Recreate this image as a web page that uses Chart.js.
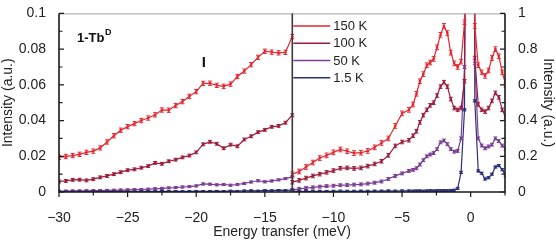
<!DOCTYPE html>
<html>
<head>
<meta charset="utf-8">
<script src="https://cdn.jsdelivr.net/npm/chart.js@4.4.1/dist/chart.umd.min.js"></script>
<style>
  html, body { margin: 0; padding: 0; background: #fff; }
  #wrap { width: 556px; height: 241px; }
</style>
</head>
<body>
<div id="wrap"><canvas id="spectraChart" width="556" height="241"></canvas></div>
<script>
    // 온도별 시리즈 (범례 순서)
    const temps = ['150 K', '100 K', '50 K', '1.5 K'];
    const lineColors = ['#e4262f', '#9c1d3c', '#7b3e92', '#2b2e7d'];

    // 왼쪽 패널 (x < -13), 왼쪽 축 0 ~ 0.1
    const xLeft = [-30, -29.5, -29, -28.5, -28, -27.5, -27, -26.5, -26, -25.5, -25, -24.5,
        -24, -23.5, -23, -22.5, -22, -21.5, -21, -20.5, -20, -19.5, -19, -18.5, -18,
        -17.5, -17, -16.5, -16, -15.5, -15, -14.5, -14, -13.5, -13];
    const left150 = [0.0194, 0.0199, 0.0204, 0.0211, 0.0222, 0.0229, 0.0247, 0.0280, 0.0315, 0.0346,
        0.0366, 0.0383, 0.0400, 0.0414, 0.0432, 0.0459, 0.0458, 0.0484, 0.0506, 0.0536, 0.0562,
        0.0608, 0.0609, 0.0597, 0.0592, 0.0604, 0.0647, 0.0677, 0.0713, 0.0754, 0.0788, 0.0783,
        0.0779, 0.0782, 0.0870];
    const left100 = [0.0059, 0.0062, 0.0068, 0.0069, 0.0065, 0.0072, 0.0082, 0.0090, 0.0100, 0.0111,
        0.0122, 0.0127, 0.0136, 0.0145, 0.0163, 0.0158, 0.0172, 0.0181, 0.0194, 0.0204, 0.0222,
        0.0267, 0.0281, 0.0270, 0.0245, 0.0265, 0.0256, 0.0294, 0.0312, 0.0335, 0.0348, 0.0365,
        0.0370, 0.0388, 0.0430];
    const left50 = [0.0005, 0.0005, 0.0006, 0.0006, 0.0007, 0.0008, 0.0008, 0.0009, 0.0010, 0.0011,
        0.0012, 0.0013, 0.0014, 0.0016, 0.0018, 0.0020, 0.0023, 0.0025, 0.0028, 0.0030, 0.0034,
        0.0045, 0.0044, 0.0040, 0.0042, 0.0038, 0.0042, 0.0048, 0.0056, 0.0063, 0.0057, 0.0062,
        0.0068, 0.0075, 0.0085];
    const left1p5 = [0.0002, 0.0002, 0.0001, 0.0002, 0.0002, 0.0003, 0.0002, 0.0002, 0.0003, 0.0003,
        0.0003, 0.0002, 0.0003, 0.0004, 0.0003, 0.0004, 0.0003, 0.0004, 0.0003, 0.0004, 0.0005,
        0.0004, 0.0004, 0.0005, 0.0004, 0.0006, 0.0005, 0.0007, 0.0008, 0.0006, 0.0009, 0.0008,
        0.0010, 0.0009, 0.0011];

    // 오른쪽 패널 (x > -13), 오른쪽 축 0 ~ 1
    const xRight = [-13, -12.5, -12, -11.5, -11, -10.5, -10, -9.5, -9, -8.5, -8, -7.5, -7, -6.5,
        -6, -5.5, -5, -4.5, -4.2, -3.95, -3.7, -3.45, -3.2, -2.95, -2.7, -2.45, -2.2, -1.95,
        -1.7, -1.45, -1.2, -0.95, -0.7, -0.45, -0.2, 0.05, 0.3, 0.55, 0.8, 1.05, 1.3, 1.55,
        1.8, 2.05, 2.3, 2.55];
    const right150 = [0.100, 0.115, 0.140, 0.165, 0.190, 0.205, 0.222, 0.238, 0.228, 0.218, 0.220,
        0.230, 0.250, 0.275, 0.300, 0.370, 0.440, 0.460, 0.490, 0.550, 0.620, 0.660, 0.710,
        0.725, 0.745, 0.810, 0.880, 0.930, 0.890, 0.780, 0.720, 0.700, 0.730, 0.950, 5.0,
        7.0, 0.930, 0.710, 0.670, 0.650, 0.680, 0.750, 0.800, 0.760, 0.670, 0.600];
    const right100 = [0.055, 0.065, 0.078, 0.090, 0.100, 0.110, 0.120, 0.133, 0.135, 0.132, 0.135,
        0.145, 0.157, 0.172, 0.205, 0.258, 0.280, 0.290, 0.315, 0.340, 0.390, 0.430, 0.460,
        0.485, 0.500, 0.540, 0.590, 0.615, 0.590, 0.520, 0.470, 0.460, 0.470, 0.620, 4.5,
        6.5, 0.750, 0.490, 0.460, 0.450, 0.470, 0.510, 0.555, 0.530, 0.460, 0.420];
    const right50 = [0.012, 0.018, 0.022, 0.026, 0.030, 0.033, 0.035, 0.038, 0.039, 0.041, 0.043,
        0.047, 0.052, 0.059, 0.073, 0.090, 0.104, 0.118, 0.124, 0.133, 0.154, 0.178, 0.200,
        0.210, 0.218, 0.240, 0.278, 0.288, 0.268, 0.240, 0.226, 0.230, 0.300, 0.700, 3.0,
        4.0, 0.720, 0.300, 0.260, 0.245, 0.255, 0.265, 0.300, 0.285, 0.260, 0.240];
    const right1p5 = [0.003, 0.004, 0.003, 0.004, 0.004, 0.003, 0.004, 0.005, 0.004, 0.004, 0.005,
        0.004, 0.005, 0.005, 0.006, 0.005, 0.006, 0.006, 0.005, 0.006, 0.006, 0.005, 0.006,
        0.007, 0.006, 0.007, 0.007, 0.008, 0.007, 0.008, 0.010, 0.020, 0.110, 0.460, 9.0,
        12.0, 0.510, 0.118, 0.105, 0.073, 0.080, 0.100, 0.140, 0.148, 0.125, 0.090];

    // 오차 막대 크기 (온도별)
    const errLeft = [0.0012, 0.0008, 0.0006, 0.0004];
    const errRight = [0.013, 0.010, 0.008, 0.006];

    // 눈금 라벨
    const xTickLabels = [-30, -25, -20, -15, -10, -5, 0];
    const yLeftTickLabels = [0, 0.02, 0.04, 0.06, 0.08, 0.1];
    const yRightTickLabels = [0, 0.2, 0.4, 0.6, 0.8, 1];
    const dividerX = -13;
    const peakMarkX = -19.45, peakMarkY = 0.0725;

    function near(v, list) {
        return list.some(l => Math.abs(l - v) < 1e-9);
    }

    function pts(xs, ys) {
        return xs.map((x, i) => ({ x: x, y: ys[i] }));
    }

    const leftSets = [left150, left100, left50, left1p5];
    const rightSets = [right150, right100, right50, right1p5];
    const datasets = [];
    temps.forEach((t, i) => {
        [[xLeft, leftSets[i], 'yL', errLeft[i]], [xRight, rightSets[i], 'yR', errRight[i]]].forEach(p => {
            datasets.push({
                label: t,
                data: pts(p[0], p[1]),
                yAxisID: p[2],
                err: p[3],
                borderColor: lineColors[i],
                backgroundColor: lineColors[i],
                borderWidth: 1.2,
                pointStyle: 'rect',
                pointRadius: 1.7,
                pointBorderWidth: 0,
                tension: 0
            });
        });
    });

    // 오차 막대 그리기
    const errorBars = {
        id: 'errorBars',
        afterDatasetsDraw(chart) {
            const ctx = chart.ctx, a = chart.chartArea;
            ctx.save();
            ctx.beginPath();
            ctx.rect(a.left, a.top, a.right - a.left, a.bottom - a.top);
            ctx.clip();
            chart.data.datasets.forEach((ds, i) => {
                const meta = chart.getDatasetMeta(i);
                const ys = chart.scales[ds.yAxisID];
                ctx.strokeStyle = ds.borderColor;
                ctx.lineWidth = 1;
                ctx.beginPath();
                meta.data.forEach((el, j) => {
                    const v = ds.data[j].y;
                    const t = ys.getPixelForValue(v + ds.err);
                    const b = ys.getPixelForValue(v - ds.err);
                    ctx.moveTo(el.x, t); ctx.lineTo(el.x, b);
                    ctx.moveTo(el.x - 2, t); ctx.lineTo(el.x + 2, t);
                    ctx.moveTo(el.x - 2, b); ctx.lineTo(el.x + 2, b);
                });
                ctx.stroke();
            });
            ctx.restore();
        }
    };

    // 테두리, 안쪽 눈금, 구분선, 범례, 주석
    const frame = {
        id: 'frame',
        afterDraw(chart) {
            const ctx = chart.ctx, a = chart.chartArea;
            const x = chart.scales.x, yL = chart.scales.yL, yR = chart.scales.yR;
            ctx.save();

            ctx.strokeStyle = '#a0a0a0';
            ctx.lineWidth = 1;
            ctx.beginPath();
            ctx.moveTo(a.left, a.top + 0.5); ctx.lineTo(a.right, a.top + 0.5);
            ctx.stroke();

            ctx.strokeStyle = '#1a1a1a';
            ctx.lineWidth = 1.6;
            ctx.beginPath();
            ctx.moveTo(a.left, a.top); ctx.lineTo(a.left, a.bottom);
            ctx.lineTo(a.right, a.bottom); ctx.lineTo(a.right, a.top);
            ctx.stroke();

            const dx = x.getPixelForValue(dividerX);
            ctx.strokeStyle = '#3a3a3a';
            ctx.beginPath();
            ctx.moveTo(dx, a.top); ctx.lineTo(dx, a.bottom);
            ctx.stroke();

            ctx.strokeStyle = '#1a1a1a';
            ctx.lineWidth = 1.2;
            ctx.beginPath();
            x.ticks.forEach(t => {
                const px = x.getPixelForValue(t.value);
                const len = near(t.value, xTickLabels) ? 5 : 3.5;
                ctx.moveTo(px, a.bottom); ctx.lineTo(px, a.bottom + len);
            });
            yL.ticks.forEach(t => {
                const py = yL.getPixelForValue(t.value);
                const len = near(t.value, yLeftTickLabels) ? 5 : 3.5;
                ctx.moveTo(a.left, py); ctx.lineTo(a.left + len, py);
            });
            yR.ticks.forEach(t => {
                const py = yR.getPixelForValue(t.value);
                const len = near(t.value, yRightTickLabels) ? 5 : 3.5;
                ctx.moveTo(a.right, py); ctx.lineTo(a.right - len, py);
            });
            ctx.stroke();

            // 범례
            ctx.font = '13px "Liberation Sans", Arial, sans-serif';
            ctx.textBaseline = 'middle';
            ctx.textAlign = 'left';
            temps.forEach((t, i) => {
                const ry = a.top + 12.5 + i * 17.3;
                ctx.strokeStyle = lineColors[i];
                ctx.lineWidth = 1.5;
                ctx.beginPath();
                ctx.moveTo(dx + 1, ry); ctx.lineTo(dx + 38, ry);
                ctx.stroke();
                ctx.fillStyle = '#222';
                ctx.fillText(t, dx + 41, ry + 0.5);
            });

            // 패널 라벨
            ctx.fillStyle = '#111';
            ctx.textBaseline = 'alphabetic';
            ctx.font = 'bold 13px "Liberation Sans", Arial, sans-serif';
            ctx.fillText('1-Tb', a.left + 18, a.top + 29);
            const w = ctx.measureText('1-Tb').width;
            ctx.font = 'bold 9px "Liberation Sans", Arial, sans-serif';
            ctx.fillText('D', a.left + 18 + w + 0.5, a.top + 22);

            // 피크 표시
            ctx.font = 'bold 15px "Liberation Sans", Arial, sans-serif';
            ctx.textAlign = 'center';
            ctx.textBaseline = 'middle';
            ctx.fillText('I', x.getPixelForValue(peakMarkX), yL.getPixelForValue(peakMarkY));

            ctx.restore();
        }
    };

    Chart.defaults.font.family = '"Liberation Sans", Arial, Helvetica, sans-serif';
    Chart.defaults.font.size = 14;
    Chart.defaults.color = '#222';

    const ctx = document.getElementById('spectraChart').getContext('2d');
    const spectraChart = new Chart(ctx, {
        type: 'line',
        data: { datasets: datasets },
        options: {
            responsive: false,
            animation: false,
            devicePixelRatio: 1,
            layout: { padding: { top: 6, left: 0, right: 0, bottom: 0 } },
            plugins: {
                legend: { display: false },
                tooltip: { enabled: false }
            },
            scales: {
                x: {
                    type: 'linear',
                    min: -30,
                    max: 2.5,
                    grid: { display: false },
                    border: { display: false },
                    ticks: {
                        stepSize: 2.5,
                        autoSkip: false,
                        maxRotation: 0,
                        padding: 10,
                        callback: v => near(v, xTickLabels) ? (v < 0 ? '\u2212' + Math.abs(v) : String(v)) : ''
                    },
                    title: { display: true, text: 'Energy transfer (meV)', padding: 0 },
                    afterFit: s => { s.height = 49; }
                },
                yL: {
                    position: 'left',
                    min: 0,
                    max: 0.1,
                    grid: { display: false },
                    border: { display: false },
                    ticks: {
                        stepSize: 0.01,
                        autoSkip: false,
                        padding: 5,
                        callback: v => near(v, yLeftTickLabels) ? String(+v.toFixed(2)) : ''
                    },
                    title: { display: true, text: 'Intensity (a.u.)', padding: 0 },
                    afterFit: s => { s.width = 59; }
                },
                yR: {
                    position: 'right',
                    min: 0,
                    max: 1,
                    grid: { display: false },
                    border: { display: false },
                    ticks: {
                        stepSize: 0.1,
                        autoSkip: false,
                        padding: 5,
                        callback: v => near(v, yRightTickLabels) ? String(+v.toFixed(1)) : ''
                    },
                    title: { display: true, text: 'Intensity (a.u.)', padding: 0 },
                    afterFit: s => { s.width = 51; }
                }
            }
        },
        plugins: [errorBars, frame]
    });
</script>
</body>
</html>
